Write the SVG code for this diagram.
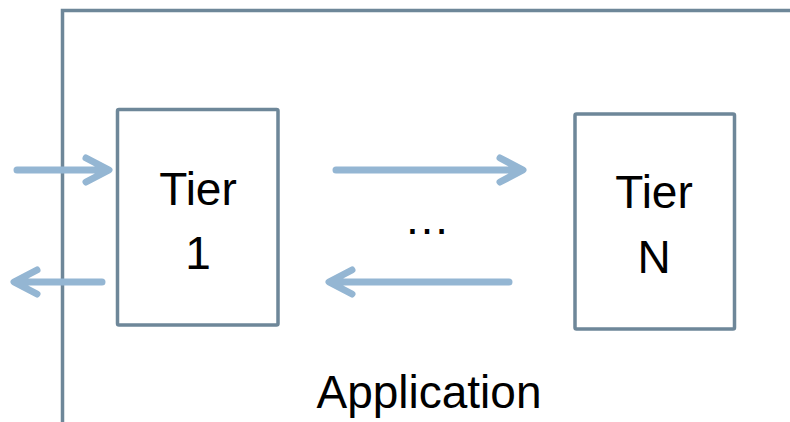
<svg xmlns="http://www.w3.org/2000/svg" width="790" height="422" viewBox="0 0 790 422">
<style>
.frame{fill:none;stroke:#6e8799;stroke-width:3.5}
.box{fill:#fff;stroke:#6e8799;stroke-width:3.5;stroke-linejoin:round}
.arr{fill:none;stroke:#94b6d3;stroke-width:7;stroke-linecap:round;stroke-linejoin:round}
.t{font-family:"Liberation Sans",Arial,sans-serif;font-size:46px;fill:#000;text-anchor:middle}
</style>
<g id="application">
<path class="frame" d="M62.5,422 V10.5 H790"/>
<text class="t" x="429" y="408">Application</text>
</g>
<g id="tier1">
<rect class="box" x="117.5" y="109.5" width="160.5" height="215.5" rx="1.5"/>
<text class="t" x="198" y="205">Tier</text>
<text class="t" x="198" y="269">1</text>
</g>
<g id="tierN">
<rect class="box" x="575" y="114" width="159.5" height="215" rx="1.5"/>
<text class="t" x="654" y="208">Tier</text>
<text class="t" x="654" y="273">N</text>
</g>
<g id="ellipsis">
<text class="t" x="427" y="234">…</text>
</g>
<g id="connectors">
<path class="arr" d="M17,170 H108 M86,158 L109,170 L86,182"/>
<path class="arr" d="M102,282 H15 M37,270 L14,282 L37,294"/>
<path class="arr" d="M336,170 H521 M500,158 L523,170 L500,182"/>
<path class="arr" d="M509,282 H331 M352,270 L329,282 L352,294"/>
</g>
</svg>
